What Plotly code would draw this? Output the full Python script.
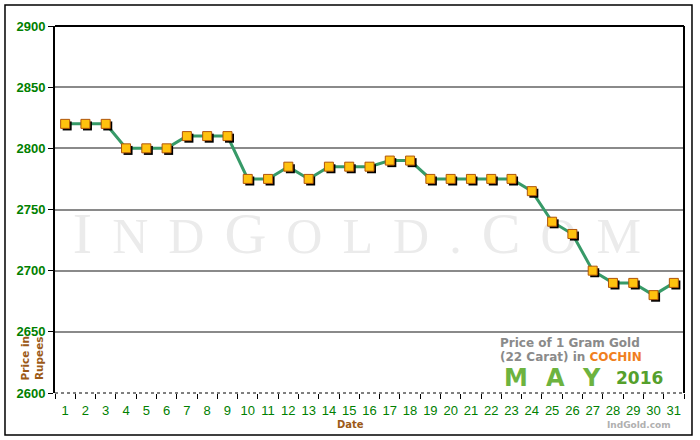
import plotly.graph_objects as go

days = [str(d) for d in range(1, 32)]
prices = [2820, 2820, 2820, 2800, 2800, 2800, 2810, 2810, 2810, 2775,
          2775, 2785, 2775, 2785, 2785, 2785, 2790, 2790, 2775, 2775,
          2775, 2775, 2775, 2765, 2740, 2730, 2700, 2690, 2690, 2680, 2690]
y_ticks = [2600, 2650, 2700, 2750, 2800, 2850, 2900]

X_RANGE = [-0.5, 30.5]
Y_RANGE = [2600, 2900]
SHIFT_X = 0.1
SHIFT_Y = 1.7

brown = "#9c5a17"

sp = "\u2009\u2009"
wm = ("I<span style='font-size:50px'>" + sp + "N" + sp + "D" + sp + "</span>G"
      "<span style='font-size:50px'>" + sp + "O" + sp + "L" + sp + "D" + sp + "." + sp + "</span>C"
      "<span style='font-size:50px'>" + sp + "O" + sp + "M</span>")

fig = go.Figure()

# background watermark (bottom-most subplot)
fig.add_trace(go.Scatter(x=[0.48], y=[0.42], mode="text", text=[wm],
                         textfont=dict(family="Liberation Serif, Times New Roman, serif",
                                       size=58, color="#ebebeb"),
                         xaxis="x", yaxis="y", hoverinfo="skip"))
# connecting line
fig.add_trace(go.Scatter(x=days, y=prices, mode="lines",
                         line=dict(color="#379a68", width=3),
                         xaxis="x2", yaxis="y2", hoverinfo="skip"))
# marker shadows
fig.add_trace(go.Scatter(x=days, y=prices, mode="markers",
                         marker=dict(symbol="square", size=9, color="black",
                                     line=dict(width=0)),
                         xaxis="x3", yaxis="y3", hoverinfo="skip"))
# markers
fig.add_trace(go.Scatter(x=days, y=prices, mode="markers",
                         marker=dict(symbol="square", size=9, color="#ffc20e",
                                     line=dict(color="#b0550a", width=1)),
                         xaxis="x4", yaxis="y4"))

fig.update_layout(
    width=700, height=440,
    margin=dict(l=55, r=16, t=26, b=47, autoexpand=False),
    paper_bgcolor="white", plot_bgcolor="white",
    showlegend=False,
    xaxis=dict(range=[0, 1], visible=False),
    yaxis=dict(range=[0, 1], visible=False),
    xaxis2=dict(type="category", overlaying="x", range=X_RANGE, tickson="boundaries",
                ticks="outside", ticklen=5, tickcolor="black", tickwidth=1, tickangle=0,
                ticklabelstandoff=8, automargin=False,
                showgrid=False, showline=False, zeroline=False,
                tickfont=dict(family="Liberation Sans, Arial, sans-serif",
                              size=13, color="#008000")),
    yaxis2=dict(overlaying="y", range=Y_RANGE, tickvals=y_ticks, ticks="outside", ticklen=5,
                tickcolor="black", showgrid=True, gridcolor="#8a8a8a", gridwidth=2,
                showline=True, linecolor="black", linewidth=2, zeroline=False,
                automargin=False,
                tickfont=dict(family="Liberation Sans, Arial, sans-serif",
                              size=13, color="#008000", weight="bold")),
    xaxis3=dict(type="category", overlaying="x", range=[X_RANGE[0] - SHIFT_X, X_RANGE[1] - SHIFT_X],
                visible=False),
    yaxis3=dict(overlaying="y", range=[Y_RANGE[0] + SHIFT_Y, Y_RANGE[1] + SHIFT_Y],
                visible=False),
    xaxis4=dict(type="category", overlaying="x", range=X_RANGE, visible=False),
    yaxis4=dict(overlaying="y", range=Y_RANGE, visible=False),
)

shapes = [
    dict(type="rect", xref="paper", yref="paper", x0=-0.0795, x1=1.0127,
         y0=-0.1144, y1=1.0572, line=dict(color="black", width=1.5), layer="below"),
    dict(type="line", xref="paper", yref="paper", x0=0, x1=1, y0=1, y1=1,
         line=dict(color="black", width=2)),
    dict(type="line", xref="paper", yref="paper", x0=1, x1=1, y0=0, y1=1,
         line=dict(color="black", width=2)),
    dict(type="line", xref="paper", yref="paper", x0=0, x1=1, y0=0, y1=0,
         line=dict(color="black", width=1, dash="dot")),
]
fig.update_layout(shapes=shapes)

def note(text, x, y, size, color, angle=0):
    return dict(text=text, xref="paper", yref="paper", x=x, y=y,
                xanchor="center", yanchor="middle", textangle=angle, showarrow=False,
                font=dict(family="DejaVu Sans, Verdana, sans-serif", size=size, color=color))

annotations = [
    note("<b>Date</b>", 0.469, -0.087, 10, brown),
    note("<b>Price in<br>Rupees</b>", -0.036, 0.095, 10.5, brown, -90),
    note("<b>Price of 1 Gram Gold</b>", 0.818, 0.136, 12, "#8a8a8a"),
    note("<b>(22 Carat) in <span style='color:#f07f1e'>COCHIN</span></b>", 0.82, 0.098,
         12, "#8a8a8a"),
    note("<b>M</b>", 0.733, 0.041, 24, "#6db33f"),
    note("<b>A</b>", 0.7965, 0.041, 24, "#6db33f"),
    note("<b>Y</b>", 0.853, 0.041, 24, "#6db33f"),
    note("<b>2016</b>", 0.93, 0.041, 17, "#55a02c"),
    note("<b>IndGold.com</b>", 0.928, -0.087, 9, "#b0b0b0"),
]
fig.update_layout(annotations=annotations)

fig.write_html("out.html", config={"displayModeBar": False},
               post_script="document.body.style.margin='0';")
